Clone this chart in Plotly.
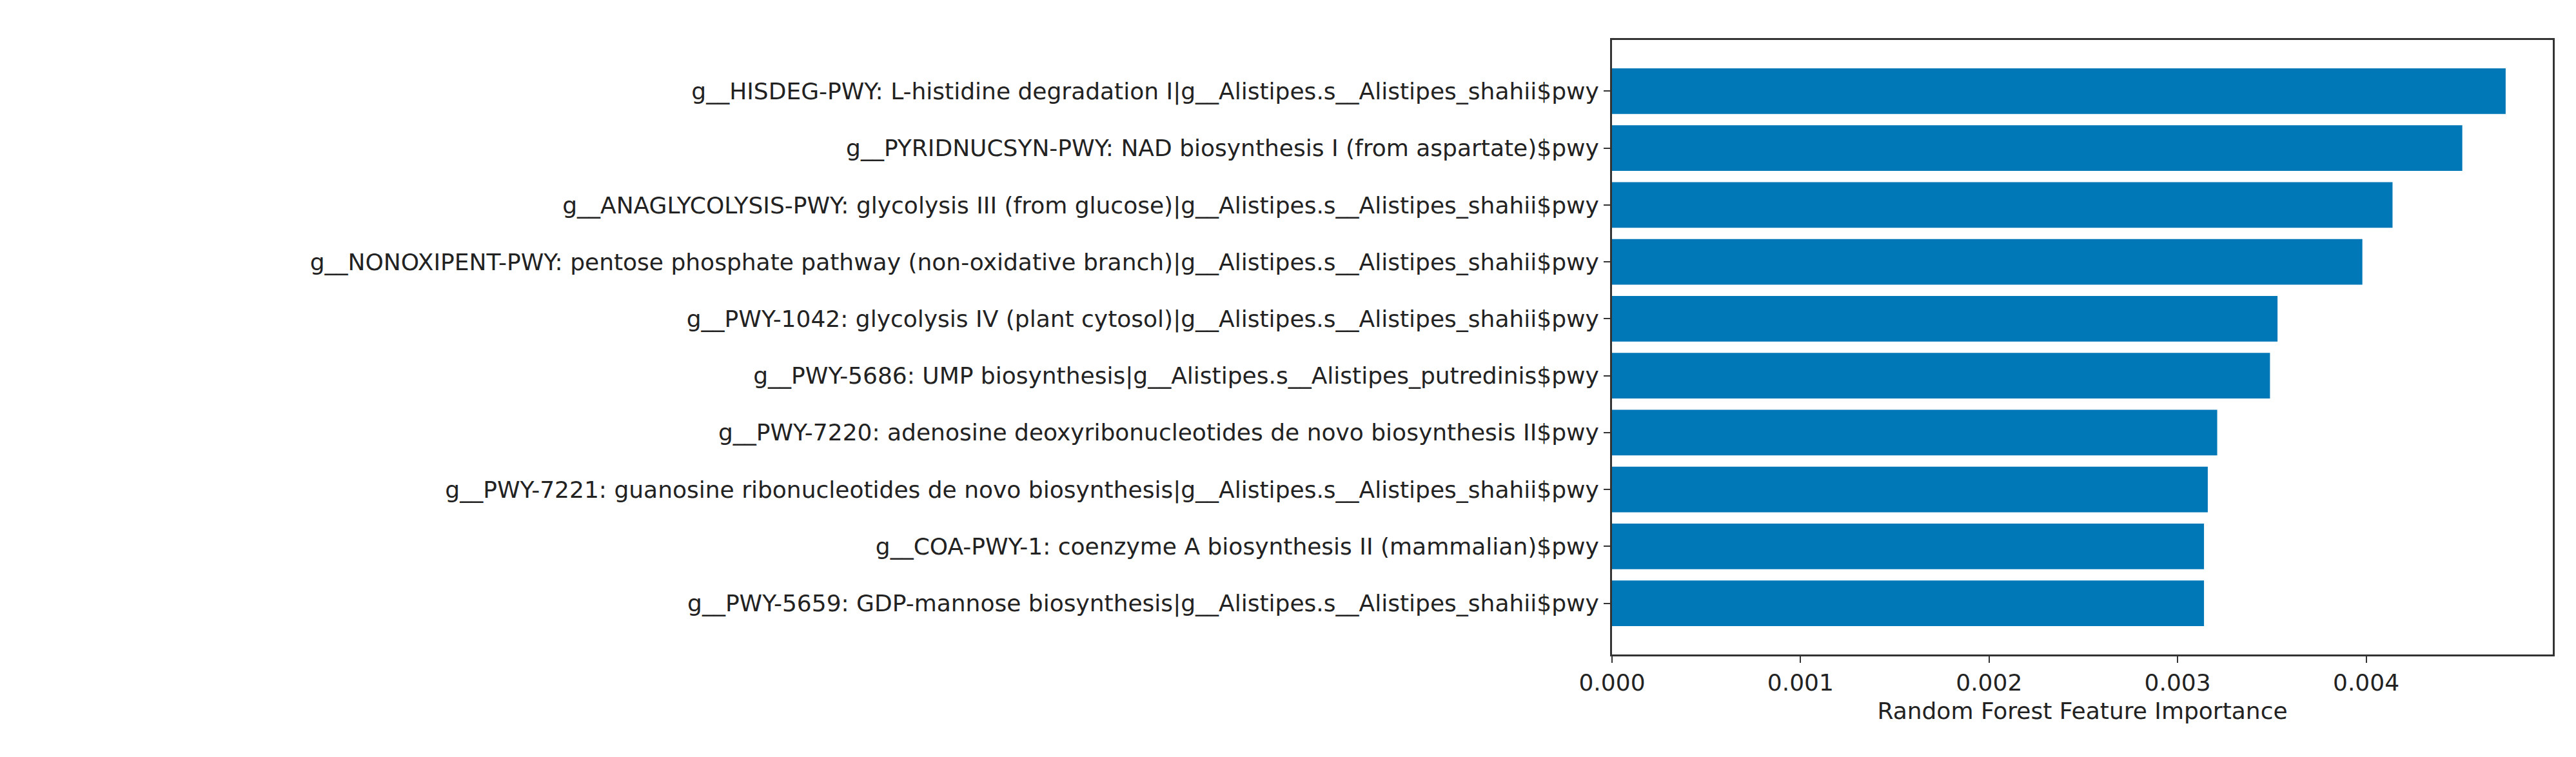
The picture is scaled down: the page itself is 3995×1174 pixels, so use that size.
import plotly.graph_objects as go

labels = [
    "g__HISDEG-PWY: L-histidine degradation I|g__Alistipes.s__Alistipes_shahii$pwy",
    "g__PYRIDNUCSYN-PWY: NAD biosynthesis I (from aspartate)$pwy",
    "g__ANAGLYCOLYSIS-PWY: glycolysis III (from glucose)|g__Alistipes.s__Alistipes_shahii$pwy",
    "g__NONOXIPENT-PWY: pentose phosphate pathway (non-oxidative branch)|g__Alistipes.s__Alistipes_shahii$pwy",
    "g__PWY-1042: glycolysis IV (plant cytosol)|g__Alistipes.s__Alistipes_shahii$pwy",
    "g__PWY-5686: UMP biosynthesis|g__Alistipes.s__Alistipes_putredinis$pwy",
    "g__PWY-7220: adenosine deoxyribonucleotides de novo biosynthesis II$pwy",
    "g__PWY-7221: guanosine ribonucleotides de novo biosynthesis|g__Alistipes.s__Alistipes_shahii$pwy",
    "g__COA-PWY-1: coenzyme A biosynthesis II (mammalian)$pwy",
    "g__PWY-5659: GDP-mannose biosynthesis|g__Alistipes.s__Alistipes_shahii$pwy",
]
values = [0.00474, 0.00451, 0.00414, 0.00398, 0.00353, 0.00349, 0.00321, 0.00316, 0.00314, 0.00314]
x_ticks = [0, 0.001, 0.002, 0.003, 0.004]
x_tick_text = ["0.000", "0.001", "0.002", "0.003", "0.004"]

lab = labels[::-1]
val = values[::-1]

fig = go.Figure(go.Bar(
    x=val, y=list(range(len(lab))), orientation="h",
    marker=dict(color="#0077B6", line=dict(width=0)), width=0.8,
))
W, H = 3995, 1174
L, R, T, B = 2492, 3951, 54, 1007
fig.update_layout(
    width=W, height=H, paper_bgcolor="white", plot_bgcolor="white",
    margin=dict(l=L, r=W - R, t=T, b=H - B, pad=0),
    font=dict(family="DejaVu Sans", size=36, color="#222"),
    showlegend=False,
)
fig.update_xaxes(
    range=[0, 0.00499], tickvals=x_ticks, ticktext=x_tick_text,
    ticks="outside", ticklen=10, tickwidth=2, tickcolor="#333",
    showline=True, linecolor="#333", linewidth=3, mirror=True, showgrid=False, zeroline=False,
    title=dict(text="Random Forest Feature Importance", font=dict(size=36), standoff=12),
)
fig.update_yaxes(
    range=[-0.9, 9.9], tickvals=list(range(len(lab))), ticktext=lab,
    ticks="outside", ticklen=10, tickwidth=2, tickcolor="#333",
    showline=True, linecolor="#333", linewidth=3, mirror=True, showgrid=False, zeroline=False,
)
fig.write_html("out.html")
